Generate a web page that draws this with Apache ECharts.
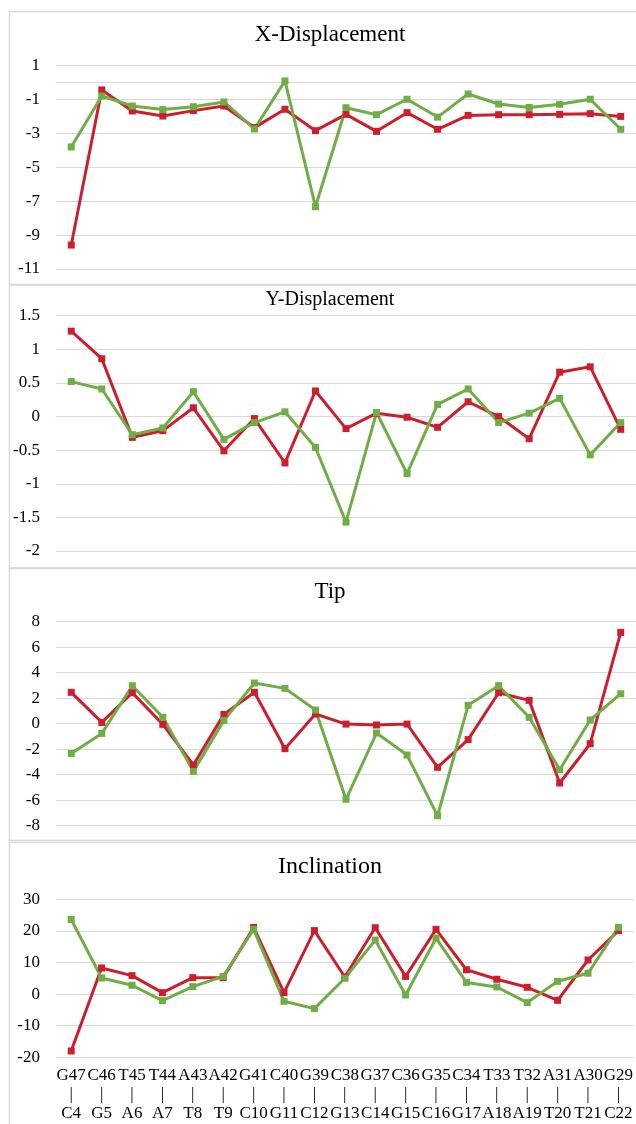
<!DOCTYPE html>
<html><head><meta charset="utf-8">
<script src="https://cdn.jsdelivr.net/npm/echarts@6/dist/echarts.min.js"></script>
<style>html,body{margin:0;padding:0;background:#fff}#c{width:636px;height:1124px}</style>
</head><body><div id="c"></div>
<script>
const topLabels = ['G47','C46','T45','T44','A43','A42','G41','C40','G39','C38','G37','C36','G35','C34','T33','T32','A31','A30','G29'];
const bottomLabels = ['C4','G5','A6','A7','T8','T9','C10','G11','C12','G13','C14','G15','C16','G17','A18','A19','T20','T21','C22'];

const xDispRed   = [-9.59,-0.45,-1.69,-1.99,-1.67,-1.40,-2.67,-1.59,-2.85,-1.89,-2.89,-1.79,-2.77,-1.95,-1.91,-1.91,-1.89,-1.85,-2.01];
const xDispGreen = [-3.81,-0.81,-1.40,-1.61,-1.44,-1.16,-2.75,0.08,-7.33,-1.50,-1.91,-1.00,-2.05,-0.69,-1.28,-1.48,-1.30,-1.00,-2.77];

const yDispRed   = [1.27,0.86,-0.31,-0.21,0.13,-0.51,-0.03,-0.69,0.38,-0.18,0.05,-0.01,-0.16,0.22,0.00,-0.33,0.66,0.74,-0.19];
const yDispGreen = [0.52,0.41,-0.27,-0.17,0.37,-0.34,-0.09,0.07,-0.46,-1.57,0.06,-0.85,0.18,0.41,-0.09,0.05,0.27,-0.57,-0.09];

const tipRed   = [2.46,0.10,2.43,-0.05,-3.24,0.73,2.46,-1.96,0.76,-0.03,-0.10,-0.03,-3.42,-1.25,2.43,1.83,-4.65,-1.57,7.16];
const tipGreen = [-2.33,-0.76,2.98,0.50,-3.74,0.26,3.19,2.77,1.07,-5.93,-0.73,-2.46,-7.22,1.44,2.98,0.50,-3.61,0.29,2.35];

const inclRed   = [-18.0,8.27,5.84,0.46,5.2,5.2,21.1,0.46,20.1,5.4,21.0,5.6,20.5,7.7,4.7,2.15,-1.96,10.8,20.1];
const inclGreen = [23.6,5.1,2.8,-2.07,2.36,5.6,20.5,-2.28,-4.6,5.0,17.1,-0.27,17.7,3.7,2.26,-2.7,4.05,6.6,21.1];

const panelTitles = ['X-Displacement','Y-Displacement','Tip','Inclination'];
const yMin = [-11, -2, -8, -20];
const yMax = [1, 1.5, 8, 30];
const yStep = [2, 0.5, 2, 10];

const categories = topLabels.map((t, i) => t + '\n|\n' + bottomLabels[i]);
const redSets = [xDispRed, yDispRed, tipRed, inclRed];
const greenSets = [xDispGreen, yDispGreen, tipGreen, inclGreen];

const RED = '#CC1E2C', GREEN = '#6FAD45', GRID = '#D9D9D9';
const FONT = '"Liberation Serif", "Times New Roman", serif';

const gridTop = [65.3, 315.7, 621.7, 899.3];
const gridH = [203.7, 235.3, 204, 158];
const titleY = [35, 300, 592, 867];
const titleSize = [23, 20, 23, 24];
const panels = [[11.5, 273], [285, 283], [568.5, 272], [842.5, 300]];

const grids = [], xAxes = [], yAxes = [], series = [], graphics = [];
for (let i = 0; i < 4; i++) {
  grids.push({left: 56, right: 0, top: gridTop[i], height: gridH[i]});
  xAxes.push({
    type: 'category', gridIndex: i, data: categories, boundaryGap: true,
    axisLine: {show: true, lineStyle: {color: GRID, width: 1}},
    axisTick: {show: false},
    axisLabel: {show: i === 3, interval: 0, fontFamily: FONT, fontSize: 17, lineHeight: 19, color: '#000', margin: 9}
  });
  yAxes.push({
    type: 'value', gridIndex: i, min: yMin[i], max: yMax[i], interval: yStep[i],
    axisLine: {show: false}, axisTick: {show: false},
    splitLine: {show: true, lineStyle: {color: GRID, width: 1}},
    axisLabel: {fontFamily: FONT, fontSize: 17, color: '#000', margin: 16}
  });
  series.push({
    type: 'line', xAxisIndex: i, yAxisIndex: i, data: redSets[i],
    symbol: 'rect', symbolSize: 7, showSymbol: true,
    lineStyle: {color: RED, width: 3}, itemStyle: {color: RED}
  });
  series.push({
    type: 'line', xAxisIndex: i, yAxisIndex: i, data: greenSets[i],
    symbol: 'rect', symbolSize: 7, showSymbol: true,
    lineStyle: {color: GREEN, width: 3}, itemStyle: {color: GREEN}
  });
  graphics.push({
    type: 'rect', z: -1, silent: true,
    shape: {x: 9.5, y: panels[i][0], width: 700, height: panels[i][1]},
    style: {fill: 'none', stroke: GRID, lineWidth: 1.5}
  });
  graphics.push({
    type: 'text', x: 330, y: titleY[i], silent: true,
    style: {text: panelTitles[i], font: titleSize[i] + 'px ' + FONT, fill: '#000',
            align: 'center', verticalAlign: 'middle', textAlign: 'center', textVerticalAlign: 'middle'}
  });
}

const chart = echarts.init(document.getElementById('c'));
chart.setOption({
  animation: false,
  backgroundColor: '#fff',
  grid: grids, xAxis: xAxes, yAxis: yAxes, series: series,
  graphic: graphics
});
</script>
</body></html>
